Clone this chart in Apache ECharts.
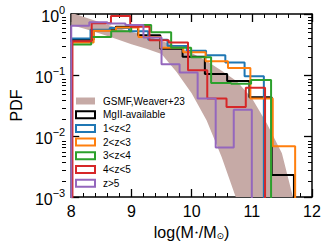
<!DOCTYPE html>
<html><head><meta charset="utf-8">
<script src="https://cdn.jsdelivr.net/npm/echarts@6/dist/echarts.min.js"></script>
<style>html,body{margin:0;padding:0;background:#fff}#c{width:329px;height:245px}</style>
</head><body><div id="c"></div>
<script>
// ---- data ----
const xTicks = [8, 9, 10, 11, 12];
const yTicks = [0.001, 0.01, 0.1, 1];
const yMinorTicks = [0.002,0.003,0.004,0.005,0.006,0.007,0.008,0.009,
                     0.02,0.03,0.04,0.05,0.06,0.07,0.08,0.09,
                     0.2,0.3,0.4,0.5,0.6,0.7,0.8,0.9];

// GSMF band (Weaver+23): lower / upper envelope
const bandX     = [8.0, 8.25, 8.5, 8.75, 9.0, 9.25, 9.5, 9.75, 10.0, 10.25, 10.5, 10.75, 11.0, 11.25, 11.5, 11.75, 12.0];
const bandLower = [0.66, 0.56, 0.47, 0.39, 0.32, 0.27, 0.22, 0.112, 0.050, 0.018, 0.0045, 0.00089, 0.00013, 0.00001, 0.000001, 0.000001, 0.000001];
const bandUpper = [1.05, 0.87, 0.72, 0.60, 0.51, 0.44, 0.36, 0.30, 0.23, 0.17, 0.117, 0.079, 0.042, 0.016, 0.0052, 0.00055, 0.00001];

// histograms: bin range + density per bin (10 bins each)
const mgRange = [8.0, 11.70];
const mgPdf   = [0.38, 0.54, 0.62, 0.45, 0.27, 0.20, 0.104, 0.080, 0.043, 0.0023];
const z12Range = [8.0, 11.20];
const z12Pdf   = [0.395, 0.55, 0.59, 0.52, 0.38, 0.30, 0.25, 0.21, 0.16, 0.095];
const z23Range = [8.0, 11.72];
const z23Pdf   = [0.34, 0.53, 0.60, 0.42, 0.28, 0.235, 0.168, 0.13, 0.041, 0.0068];
const z34Range = [8.0, 11.32];
const z34Pdf   = [0.316, 0.42, 0.52, 0.66, 0.50, 0.28, 0.195, 0.074, 0.072, 0.083];
const z45Range = [8.02, 11.22];
const z45Pdf   = [0.357, 0.708, 0.93, 0.62, 0.37, 0.34, 0.12, 0.041, 0.030, 0.062];
const z5Range = [8.0, 11.0];
const z5Pdf   = [0.64, 0.73, 0.70, 0.66, 0.41, 0.15, 0.11, 0.041, 0.0065, 0.027];

const names = ['GSMF,Weaver+23', 'MgII-available', '1<z<2', '2<z<3', '3<z<4', '4<z<5', 'z>5'];
</script>
<script>
const FONT = 'Liberation Sans, Arial, Helvetica, sans-serif';
const bandColor = '#c6aaa6';
const colors = ['#000000', '#1f77b4', '#ff7f0e', '#2ca02c', '#d62728', '#9467bd'];
const hists = [[mgRange, mgPdf], [z12Range, z12Pdf], [z23Range, z23Pdf], [z34Range, z34Pdf], [z45Range, z45Pdf], [z5Range, z5Pdf]];
const TINY = 1e-7;

function stepData(range, h) {
  const n = h.length, w = (range[1] - range[0]) / n;
  const d = [[range[0], TINY]];
  for (let i = 0; i < n; i++) {
    d.push([range[0] + i * w, h[i]]);
    d.push([range[0] + (i + 1) * w, h[i]]);
  }
  d.push([range[1], TINY]);
  return d;
}

const chart = echarts.init(document.getElementById('c'), null, {renderer: 'svg'});
const GRID = {left: 62, right: 17, top: 14, bottom: 45};
const axLine = {show: true, onZero: false, lineStyle: {color: '#000', width: 1.5}};
const majTick = {show: true, inside: true, length: 8, lineStyle: {color: '#000', width: 1.3}};
const minTick = {show: true, splitNumber: 5, length: 4, lineStyle: {color: '#000', width: 1}};
const supFmt = v => {
  const e = Math.round(Math.log10(v));
  return '{b|10}{s|' + (e < 0 ? '\u2212' + (-e) : e) + '}';
};

const series = [{
  type: 'custom', name: names[0], xAxisIndex: 0, yAxisIndex: 0, z: 1,
  data: [[9, 0.5]], encode: {x: 0, y: 1},
  itemStyle: {color: bandColor},
  renderItem(params, api) {
    const pts = [];
    for (let i = 0; i < bandX.length; i++) pts.push(api.coord([bandX[i], bandUpper[i]]));
    for (let i = bandX.length - 1; i >= 0; i--) pts.push(api.coord([bandX[i], bandLower[i]]));
    const cs = params.coordSys;
    return {type: 'polygon', shape: {points: pts}, style: {fill: bandColor, stroke: null},
      clipPath: {type: 'rect', shape: {x: cs.x, y: cs.y, width: cs.width, height: cs.height}}};
  }
}];
hists.forEach((hd, k) => {
  series.push({
    type: 'line', name: names[k + 1], xAxisIndex: 0, yAxisIndex: 0, z: 2 + k,
    data: stepData(hd[0], hd[1]), showSymbol: false, symbol: 'none', clip: true,
    lineStyle: {color: colors[k], width: 2}, itemStyle: {color: colors[k]},
    animation: false
  });
});

const legendData = [{name: names[0], icon: 'rect', itemStyle: {color: bandColor, borderWidth: 0}}];
for (let k = 0; k < 6; k++) {
  legendData.push({name: names[k + 1], icon: 'rect',
    itemStyle: {color: '#fff', borderColor: colors[k], borderWidth: 2}});
}

chart.setOption({
  animation: false,
  backgroundColor: '#fff',
  grid: [Object.assign({}, GRID), Object.assign({}, GRID)],
  legend: {
    orient: 'vertical', left: 70, top: 91, itemWidth: 19, itemHeight: 7, itemGap: 3.7,
    selectedMode: false, data: legendData,
    textStyle: {fontSize: 10, fontFamily: FONT, color: '#000', padding: [0, 0, 0, 3]}
  },
  xAxis: [{
    type: 'value', gridIndex: 0, position: 'bottom', min: 8, max: 12, interval: 1,
    axisLine: axLine, axisTick: majTick, minorTick: minTick, splitLine: {show: false},
    axisLabel: {fontSize: 16, fontFamily: FONT, color: '#000', margin: 6,
      customValues: xTicks},
    name: '{n|log(M}{s|\u22c6}{n|/M}{t|\u2299}{n|)}', nameLocation: 'middle', nameGap: 27,
    nameTextStyle: {rich: {
      n: {fontSize: 16, fontFamily: FONT, color: '#000'},
      s: {fontSize: 8, fontFamily: FONT, color: '#000'},
      t: {fontSize: 9, fontFamily: 'DejaVu Sans', color: '#000', verticalAlign: 'bottom', padding: [6, 0, 0, 0]}
    }}
  }, {
    type: 'value', gridIndex: 0, position: 'top', min: 8, max: 12, interval: 1,
    axisLine: axLine, axisTick: majTick, minorTick: minTick, splitLine: {show: false},
    axisLabel: {show: false}
  }, {
    type: 'value', gridIndex: 1, min: 8, max: 12, show: false
  }],
  yAxis: [{
    type: 'log', logBase: 10, gridIndex: 0, position: 'left', min: 0.001, max: 1,
    axisLine: axLine, axisTick: majTick, splitLine: {show: false}, minorTick: {show: false},
    axisLabel: {formatter: supFmt, margin: 6, rich: {
      b: {fontSize: 16, fontFamily: FONT, color: '#000', lineHeight: 20, verticalAlign: 'bottom'},
      s: {fontSize: 11, fontFamily: FONT, color: '#000', lineHeight: 12, verticalAlign: 'top'}
    }},
    name: 'PDF', nameLocation: 'middle', nameGap: 38, nameRotate: 90,
    nameTextStyle: {fontSize: 16, fontFamily: FONT, color: '#000'}
  }, {
    type: 'log', logBase: 10, gridIndex: 0, position: 'right', min: 0.001, max: 1,
    axisLine: axLine, axisTick: majTick, splitLine: {show: false}, axisLabel: {show: false}
  }, {
    type: 'log', logBase: 10, gridIndex: 1, position: 'left', min: 0.001, max: 1,
    axisLine: {show: false}, splitLine: {show: false}, axisLabel: {show: false},
    axisTick: {show: true, inside: true, length: 4, customValues: yMinorTicks, lineStyle: {color: '#000', width: 1}}
  }, {
    type: 'log', logBase: 10, gridIndex: 1, position: 'right', min: 0.001, max: 1,
    axisLine: {show: false}, splitLine: {show: false}, axisLabel: {show: false},
    axisTick: {show: true, inside: true, length: 4, customValues: yMinorTicks, lineStyle: {color: '#000', width: 1}}
  }],
  series: series
});
</script>
</body></html>
